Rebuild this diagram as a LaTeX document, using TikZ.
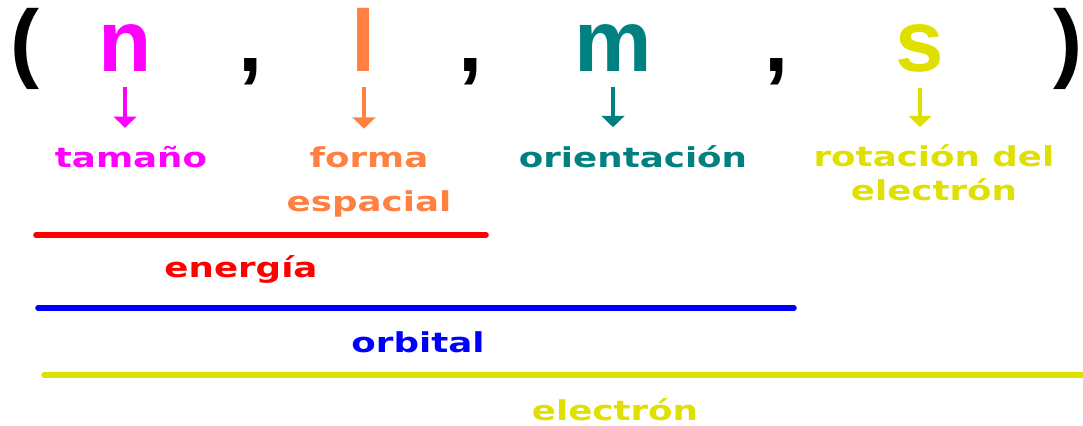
\documentclass[tikz,border=0pt]{standalone}
\usepackage{fontspec}
\setmainfont{Liberation Sans}
\newfontfamily\labelfont{DejaVu Sans}
\usetikzlibrary{arrows.meta}
\definecolor{sizeMagenta}{HTML}{FF00FF}
\definecolor{shapeOrange}{HTML}{FF8040}
\definecolor{orientTeal}{HTML}{008080}
\definecolor{spinYellow}{HTML}{E0E000}
\definecolor{energyRed}{HTML}{FF0000}
\definecolor{orbitalBlue}{HTML}{0000FF}

\begin{document}
\begin{tikzpicture}[
    x=0.025cm, y=-0.025cm,
    qnum/.style={font=\fontsize{62}{62}\selectfont\bfseries, inner sep=0pt, anchor=base},
    lbl/.style={font=\labelfont\bfseries\fontsize{19.5}{31}\selectfont, xscale=1.3, inner sep=0pt, anchor=base, align=center},
    arr/.style={-{Triangle[width=16pt, length=8pt]}, line width=2.4pt, shorten <=10.7pt, shorten >=12.5pt},
    span/.style={line width=4pt, line cap=round},
  ]
  \useasboundingbox (0,0) rectangle (1083,426);
  % quantum numbers
  \node[qnum] (lp) at (25,72) {(};
  \node[qnum, text=sizeMagenta] (n) at (125,72) {n};
  \node[qnum] (c1) at (251,72) {,};
  \node[qnum, text=shapeOrange] (l) at (364,72) {l};
  \node[qnum] (c2) at (471,72) {,};
  \node[qnum, text=orientTeal] (m) at (613,72) {m};
  \node[qnum] (c3) at (777,72) {,};
  \node[qnum, text=spinYellow] (s) at (920,72) {s};
  \node[qnum] (rp) at (1068,72) {)};
  % meanings (base of a two-line node is its last line)
  \node[lbl, text=sizeMagenta] (tam) at (131,167) {tamaño};
  \node[lbl, text=shapeOrange] (forma) at (369,211) {forma\\espacial};
  \node[lbl, text=orientTeal] (orient) at (633,167) {orientación};
  \node[lbl, text=spinYellow, font=\labelfont\bfseries\fontsize{19.5}{23.5}\selectfont] (rot) at (934,200) {rotación del\\electrón};
  \draw[arr, sizeMagenta] (n.south) -- (n.south |- tam.north);
  \draw[arr, shapeOrange] (l.south) -- (l.south |- forma.north);
  \draw[arr, orientTeal] (m.south) -- (m.south |- orient.north);
  \draw[arr, spinYellow] (s.south) -- (s.south |- rot.north);
  % spans
  \draw[span, energyRed] (36,235) -- (486,235);
  \node[lbl, text=energyRed] (ener) at (241,277) {energía};
  \draw[span, orbitalBlue] (38,308) -- (794,308);
  \node[lbl, text=orbitalBlue] (orb) at (418,352) {orbital};
  \draw[span, spinYellow] (44,375) -- (1083,375);
  \node[lbl, text=spinYellow] (elec) at (615,420) {electrón};
\end{tikzpicture}
\end{document}
